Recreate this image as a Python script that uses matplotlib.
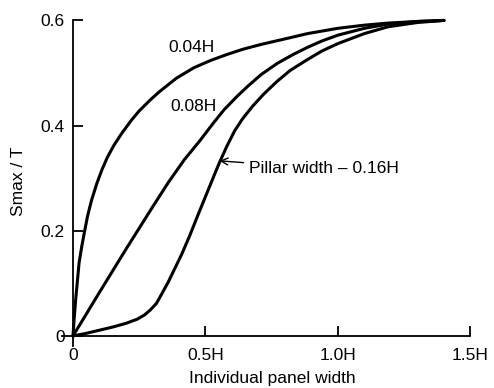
import matplotlib.pyplot as plt

# curves (x in units of H, y = Smax / T)
x_004 = [0, 0.004, 0.011, 0.023, 0.033, 0.043, 0.055, 0.07, 0.09, 0.11, 0.13,
         0.155, 0.185, 0.22, 0.25, 0.29, 0.325, 0.39, 0.456, 0.52, 0.58, 0.64,
         0.707, 0.81, 0.886, 1.0, 1.1, 1.19, 1.3, 1.40]
y_004 = [0, 0.03, 0.074, 0.139, 0.17, 0.197, 0.228, 0.258, 0.29, 0.317, 0.34,
         0.363, 0.386, 0.41, 0.428, 0.448, 0.464, 0.49, 0.51, 0.524, 0.535, 0.545,
         0.554, 0.566, 0.575, 0.585, 0.591, 0.595, 0.598, 0.6]

x_008 = [0, 0.1, 0.2, 0.3, 0.36, 0.42, 0.48, 0.53, 0.57, 0.62, 0.66, 0.71, 0.77,
         0.83, 0.886, 0.94, 1.0, 1.1, 1.19, 1.3, 1.40]
y_008 = [0, 0.083, 0.165, 0.245, 0.292, 0.335, 0.372, 0.405, 0.43, 0.456, 0.475,
         0.497, 0.518, 0.535, 0.549, 0.561, 0.572, 0.585, 0.593, 0.598, 0.6]

x_016 = [0, 0.05, 0.1, 0.15, 0.2, 0.243, 0.27, 0.293, 0.315, 0.335, 0.36, 0.384,
         0.41, 0.44, 0.47, 0.5, 0.53, 0.553, 0.58, 0.61, 0.64, 0.678, 0.72, 0.77,
         0.82, 0.883, 0.94, 1.0, 1.1, 1.19, 1.3, 1.40]
y_016 = [0, 0.005, 0.011, 0.017, 0.024, 0.032, 0.04, 0.05, 0.062, 0.08, 0.103,
         0.128, 0.155, 0.19, 0.228, 0.265, 0.302, 0.33, 0.36, 0.39, 0.413, 0.437,
         0.46, 0.484, 0.505, 0.525, 0.542, 0.556, 0.575, 0.588, 0.596, 0.6]

xticks = [0, 0.5, 1.0, 1.5]
xticklabels = ['0', '0.5H', '1.0H', '1.5H']
yticks = [0, 0.2, 0.4, 0.6]
yticklabels = ['0', '0.2', '0.4', '0.6']

plt.rcParams['font.family'] = ['Liberation Sans', 'DejaVu Sans']
fs = 12.5

fig = plt.figure(figsize=(4.94, 3.88), dpi=100)
ax = fig.add_axes([0.1263, 0.107, 0.826, 0.8675])

for xs, ys in [(x_004, y_004), (x_008, y_008), (x_016, y_016)]:
    ax.plot(xs, ys, color='black', linewidth=2.2, solid_capstyle='round',
            solid_joinstyle='round', clip_on=False)

ax.set_xlim(-0.04, 1.5)
ax.set_ylim(-0.02, 0.62)

for s in ['top', 'right']:
    ax.spines[s].set_visible(False)
ax.spines['left'].set_position(('data', 0))
ax.spines['bottom'].set_position(('data', 0))
ax.spines['left'].set_bounds(-0.02, 0.6)
ax.spines['left'].set_linewidth(1.3)
ax.spines['bottom'].set_linewidth(1.3)

ax.set_xticks(xticks)
ax.set_xticklabels(xticklabels, fontsize=fs)
ax.set_yticks(yticks)
ax.set_yticklabels(yticklabels, fontsize=fs)
ax.tick_params(axis='both', direction='in', length=7, width=1.3)
ax.tick_params(axis='x', pad=9)
ax.tick_params(axis='y', pad=6)

ax.text(0.446, 0.548, '0.04H', fontsize=fs, ha='center', va='center')
ax.text(0.456, 0.437, '0.08H', fontsize=fs, ha='center', va='center')
ax.annotate('Pillar width \u2013 0.16H', xy=(0.553, 0.333), xytext=(0.665, 0.318),
            fontsize=fs, ha='left', va='center',
            arrowprops=dict(arrowstyle='->', color='black', lw=1.0,
                            shrinkA=2, shrinkB=0))

ax.set_xlabel('Individual panel width', fontsize=fs)
ax.xaxis.set_label_coords(0.515, -0.073)
ax.set_ylabel('Smax / T', fontsize=fs)
ax.yaxis.set_label_coords(-0.09, 0.49)

plt.savefig('out.png', dpi=100)
